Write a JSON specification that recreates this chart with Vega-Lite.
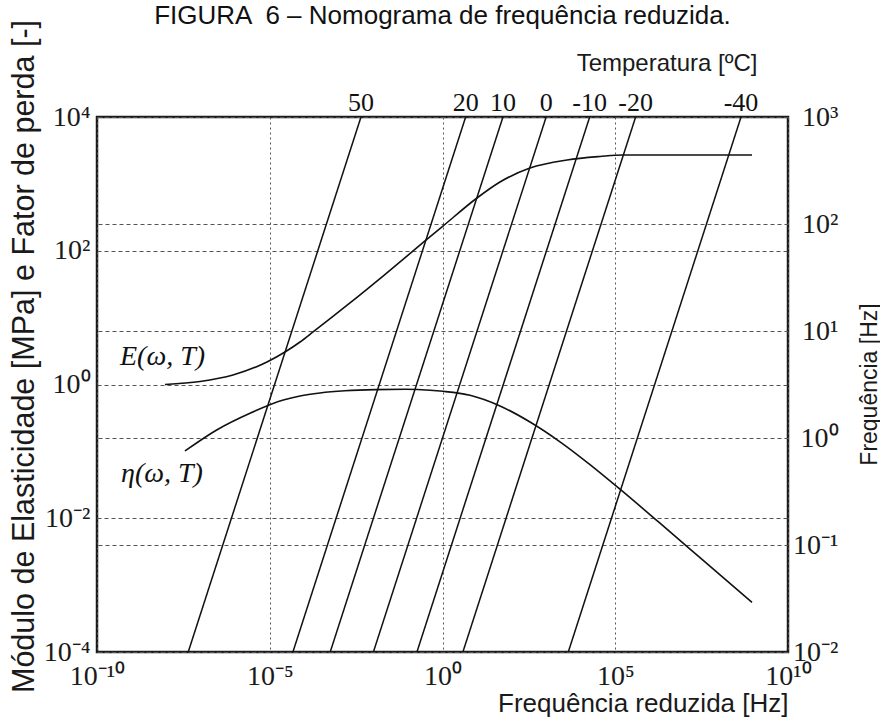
{
  "$schema": "https://vega.github.io/schema/vega-lite/v6.json",
  "width": 691,
  "height": 535,
  "autosize": {"type": "none"},
  "padding": {"left": 97, "top": 117, "right": 92, "bottom": 65},
  "background": "white",
  "title": {
    "text": "FIGURA \u00a06 – Nomograma de frequência reduzida.",
    "font": "Liberation Sans",
    "fontSize": 26,
    "fontWeight": "normal",
    "color": "#111",
    "anchor": "middle",
    "offset": 12,
    "dy": 22
  },
  "config": {
    "view": {"stroke": "#1a1a1a", "strokeWidth": 2.5},
    "axis": {
      "labelFont": "Liberation Serif",
      "labelFontSize": 28,
      "labelColor": "#1a1a1a",
      "ticks": false,
      "domain": false,
      "labelOverlap": false,
      "labelBound": false,
      "labelFlush": false,
      "titleFont": "Liberation Sans",
      "titleFontWeight": "normal",
      "titleColor": "#1a1a1a",
      "gridColor": "#555",
      "gridWidth": 1,
      "gridOpacity": 1
    }
  },
  "datasets": {
    "curves": [
      {"s": "E", "fr": 9.29e-9, "v": 1.0},
      {"s": "E", "fr": 9.57e-8, "v": 1.11},
      {"s": "E", "fr": 8.63e-7, "v": 1.387},
      {"s": "E", "fr": 8.32e-6, "v": 2.17},
      {"s": "E", "fr": 2.76e-5, "v": 3.06},
      {"s": "E", "fr": 7.52e-5, "v": 4.32},
      {"s": "E", "fr": 1.79e-4, "v": 6.10},
      {"s": "E", "fr": 2.10e-3, "v": 16.6},
      {"s": "E", "fr": 0.019, "v": 41.9},
      {"s": "E", "fr": 0.311, "v": 140},
      {"s": "E", "fr": 1.03, "v": 234},
      {"s": "E", "fr": 9.95, "v": 615},
      {"s": "E", "fr": 46.1, "v": 1067},
      {"s": "E", "fr": 341, "v": 1726},
      {"s": "E", "fr": 4018, "v": 2275},
      {"s": "E", "fr": 36200, "v": 2566},
      {"s": "E", "fr": 167500, "v": 2704},
      {"s": "E", "fr": 9.08e8, "v": 2704},
      {"s": "eta", "fr": 3.52e-8, "v": 0.1014},
      {"s": "eta", "fr": 2.91e-7, "v": 0.209},
      {"s": "eta", "fr": 2.68e-6, "v": 0.372},
      {"s": "eta", "fr": 2.47e-5, "v": 0.586},
      {"s": "eta", "fr": 7.52e-5, "v": 0.673},
      {"s": "eta", "fr": 2.84e-4, "v": 0.746},
      {"s": "eta", "fr": 1.50e-3, "v": 0.805},
      {"s": "eta", "fr": 0.0115, "v": 0.839},
      {"s": "eta", "fr": 0.0849, "v": 0.848},
      {"s": "eta", "fr": 0.435, "v": 0.822},
      {"s": "eta", "fr": 1.03, "v": 0.791},
      {"s": "eta", "fr": 6.25, "v": 0.690},
      {"s": "eta", "fr": 46.1, "v": 0.478},
      {"s": "eta", "fr": 341, "v": 0.275},
      {"s": "eta", "fr": 2518, "v": 0.139},
      {"s": "eta", "fr": 18580, "v": 0.0634},
      {"s": "eta", "fr": 137100, "v": 0.0272},
      {"s": "eta", "fr": 1.97e6, "v": 0.00843},
      {"s": "eta", "fr": 2.84e7, "v": 0.00258},
      {"s": "eta", "fr": 9.08e8, "v": 0.000553}
    ],
    "curveLabels": [
      {"s": "E", "fr": 7.87e-9, "v": 1.96, "label": "E(ω, T)"},
      {"s": "eta", "fr": 7.6e-9, "v": 0.0348, "label": "η(ω, T)"}
    ],
    "temps": [
      {"T": "50", "fr": 4.37e-8, "f": 0.01},
      {"T": "50", "fr": 0.00437, "f": 1000},
      {"T": "20", "fr": 4.68e-5, "f": 0.01},
      {"T": "20", "fr": 4.68, "f": 1000},
      {"T": "10", "fr": 5.62e-4, "f": 0.01},
      {"T": "10", "fr": 56.2, "f": 1000},
      {"T": "0", "fr": 0.01, "f": 0.01},
      {"T": "0", "fr": 1000, "f": 1000},
      {"T": "-10", "fr": 0.182, "f": 0.01},
      {"T": "-10", "fr": 18200, "f": 1000},
      {"T": "-20", "fr": 3.89, "f": 0.01},
      {"T": "-20", "fr": 389000, "f": 1000},
      {"T": "-40", "fr": 4370, "f": 0.01},
      {"T": "-40", "fr": 4.37e8, "f": 1000}
    ],
    "tempLabels": [
      {"T": "50", "fr": 0.00437, "f": 1000},
      {"T": "20", "fr": 4.68, "f": 1000},
      {"T": "10", "fr": 56.2, "f": 1000},
      {"T": "0", "fr": 1000, "f": 1000},
      {"T": "-10", "fr": 18200, "f": 1000},
      {"T": "-20", "fr": 389000, "f": 1000},
      {"T": "-40", "fr": 4.37e8, "f": 1000}
    ]
  },
  "layer": [
    {
      "encoding": {
        "x": {
          "field": "fr", "type": "quantitative",
          "scale": {"type": "log", "domain": [1e-10, 1e10], "nice": false},
          "axis": {
            "orient": "bottom",
            "values": [1e-10, 1e-5, 1, 1e5, 1e10],
            "labelExpr": "datum.value < 1e-7 ? '10⁻¹⁰' : datum.value < 1e-2 ? '10⁻⁵' : datum.value < 100 ? '10⁰' : datum.value < 1e7 ? '10⁵' : '10¹⁰'",
            "labelBaseline": "top",
            "labelPadding": 10,
            "grid": true,
            "gridDash": [2, 3],
            "title": "Frequência reduzida [Hz]",
            "titleFontSize": 26,
            "titleAnchor": "end",
            "titleAlign": "right",
            "titleBaseline": "alphabetic",
            "titleX": 691,
            "titleY": 59
          }
        },
        "y": {
          "field": "v", "type": "quantitative",
          "scale": {"type": "log", "domain": [1e-4, 1e4], "nice": false},
          "axis": {
            "orient": "left",
            "values": [1e-4, 1e-2, 1, 100, 1e4],
            "labelExpr": "datum.value < 1e-3 ? '10⁻⁴' : datum.value < 0.1 ? '10⁻²' : datum.value < 10 ? '10⁰' : datum.value < 1000 ? '10²' : '10⁴'",
            "labelPadding": 7,
            "labelBaseline": "middle",
            "grid": true,
            "gridDash": [4, 3],
            "title": "Módulo de Elasticidade [MPa] e Fator de perda [-]",
            "titleFontSize": 30.5,
            "titleAngle": -90,
            "titleAlign": "center",
            "titleBaseline": "alphabetic",
            "titleX": -64,
            "titleY": 239
          }
        }
      },
      "layer": [
        {
          "data": {"name": "curves"},
          "mark": {"type": "line", "color": "#111", "strokeWidth": 1.6, "interpolate": "monotone"},
          "encoding": {"detail": {"field": "s", "type": "nominal"}}
        },
        {
          "data": {"name": "curveLabels"},
          "mark": {"type": "text", "font": "Liberation Serif", "fontStyle": "italic", "fontSize": 28, "align": "center", "baseline": "alphabetic", "color": "#111"},
          "encoding": {"text": {"field": "label"}}
        }
      ]
    },
    {
      "encoding": {
        "x": {
          "field": "fr", "type": "quantitative",
          "scale": {"type": "log", "domain": [1e-10, 1e10], "nice": false},
          "axis": {
            "orient": "top",
            "labels": false,
            "grid": false,
            "title": "Temperatura [ºC]",
            "titleFontSize": 24,
            "titleAnchor": "end",
            "titleAlign": "right",
            "titleBaseline": "alphabetic",
            "titleX": 660,
            "titleY": -47
          }
        },
        "y": {
          "field": "f", "type": "quantitative",
          "scale": {"type": "log", "domain": [0.01, 1000], "nice": false},
          "axis": {
            "orient": "right",
            "values": [0.01, 0.1, 1, 10, 100, 1000],
            "labelExpr": "datum.value < 0.05 ? '10⁻²' : datum.value < 0.5 ? '10⁻¹' : datum.value < 5 ? '10⁰' : datum.value < 50 ? '10¹' : datum.value < 500 ? '10²' : '10³'",
            "labelAlign": "right",
            "labelPadding": 50,
            "labelBaseline": "middle",
            "grid": true,
            "gridDash": [4, 3],
            "title": "Frequência [Hz]",
            "titleFontSize": 23,
            "titleAngle": -90,
            "titleAlign": "center",
            "titleBaseline": "alphabetic",
            "titleX": 88,
            "titleY": 267
          }
        }
      },
      "layer": [
        {
          "data": {"name": "temps"},
          "mark": {"type": "line", "color": "#111", "strokeWidth": 1.5},
          "encoding": {"detail": {"field": "T", "type": "nominal"}}
        },
        {
          "data": {"name": "tempLabels"},
          "mark": {"type": "text", "font": "Liberation Serif", "fontSize": 26, "align": "center", "baseline": "alphabetic", "dy": -6, "color": "#111"},
          "encoding": {"text": {"field": "T"}}
        }
      ]
    }
  ],
  "resolve": {"scale": {"y": "independent"}, "axis": {"x": "independent"}}
}
